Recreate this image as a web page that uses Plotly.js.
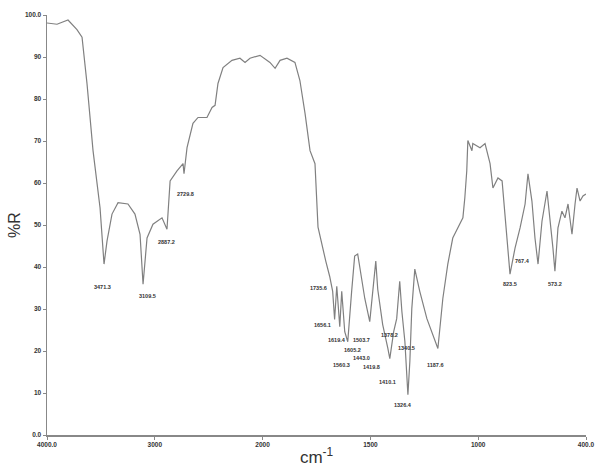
<!DOCTYPE html>
<html>
<head>
<meta charset="utf-8">
<script src="https://cdn.plot.ly/plotly-3.0.1.min.js"></script>
<style>html,body{margin:0;padding:0;background:#fff;}#chart{width:611px;height:472px;}</style>
</head>
<body>
<div id="chart"></div>
<script>
// Wavenumbers (cm-1) and %R values
const wavenumber = [4000,3907,3805,3722,3675,3629,3573,3508,3471,3443,3397,3341,3249,3184,3137,3109,3072,3017,2933,2887,2858,2794,2738,2729,2701,2646,2599,2516,2469,2441,2414,2367,2284,2210,2163,2117,2024,1966,1942,1919,1887,1850,1827,1803,1780,1757,1743,1726,1707,1689,1675,1666,1656,1642,1633,1619,1605,1587,1573,1559,1540,1526,1503,1489,1475,1466,1443,1419,1410,1392,1378,1364,1354,1340,1326,1317,1308,1294,1271,1238,1211,1187,1164,1141,1118,1085,1071,1062,1053,1048,1029,1025,990,962,934,918,890,867,851,834,823,795,767,739,723,701,684,667,645,617,600,584,573,556,534,517,500,478,461,450,433,417,400];
const reflectance = [98.1,97.8,98.8,96.5,94.7,83.7,67.7,54.1,40.7,46.2,52.6,55.3,55.0,52.6,47.8,35.9,46.9,50.2,51.7,49.0,60.5,62.9,64.6,62.2,68.4,74.2,75.6,75.6,78.0,78.5,83.7,87.5,89.2,89.7,88.7,89.7,90.4,88.7,87.3,89.2,89.7,88.7,84.4,76.5,67.7,64.6,49.5,45.4,41.4,37.8,34.2,27.5,35.4,25.8,34.2,24.6,22.2,34.2,42.6,43.1,36.6,32.5,27.0,34.2,41.4,34.7,26.3,20.6,18.2,24.6,27.7,36.6,29.4,22.2,9.6,17.5,30.1,39.5,34.2,27.7,23.9,20.6,32.5,40.7,46.9,50.2,51.7,56.5,62.9,70.1,67.7,69.4,68.4,69.4,64.6,58.8,61.2,60.5,52.6,43.1,38.3,44.5,49.3,55.0,62.2,55.7,46.9,40.7,50.9,58.1,51.7,44.5,39.0,49.3,53.3,51.7,55.0,47.8,55.0,58.8,55.7,56.9,57.4];

// Peak labels: text, label position (wavenumber, %R)
const peakText = ["3471.3","3109.5","2887.2","2729.8","1735.6","1656.1","1619.4","1503.7","1605.2","1443.0","1560.3","1419.8","1378.2","1340.5","1410.1","1326.4","1187.6","823.5","767.4","573.2"];
const peakLabelW = [3481,3072,2887,2711,1743,1720,1656,1540,1581,1540,1633,1494,1410,1331,1419,1350,1197,823,751,573];
const peakLabelR = [35.2,33.0,45.9,57.4,34.9,26.3,22.7,22.7,20.3,18.4,16.7,16.3,23.9,20.6,12.7,7.2,16.7,35.9,41.4,35.9];

// Axis tick labels
const tickWavenumbers = [4000,3000,2000,1500,1000,400];
const tickLabels = ["4000.0","3000","2000","1500","1000","400.0"];
const yTickVals = [0,10,20,30,40,50,60,70,80,90,100];
const yTickLabels = ["0.0","10","20","30","40","50","60","70","80","90","100.0"];

// Instrument-style split wavenumber scale (scale change at 2000 and 1000 cm-1)
function pos(w){
  if (w >= 2000) return (4000 - w) / 1000;
  if (w >= 1000) return 2 + (2000 - w) / 500;
  return 4 + (1000 - w) / 600;
}

const trace = {
  x: wavenumber.map(pos),
  y: reflectance,
  customdata: wavenumber,
  type: 'scatter',
  mode: 'lines',
  line: {color: '#808080', width: 1.2},
  hovertemplate: '%{customdata} cm-1: %{y}<extra></extra>'
};

const annotations = peakText.map((t, i) => ({
  x: pos(peakLabelW[i]), y: peakLabelR[i], text: '<b>' + t + '</b>',
  showarrow: false, font: {family: 'Arial, Liberation Sans, sans-serif', size: 5.5, color: '#333'},
  xanchor: 'center', yanchor: 'middle'
}));

const layout = {
  width: 611, height: 472,
  margin: {l: 47, r: 25, t: 15, b: 37},
  paper_bgcolor: '#fff', plot_bgcolor: '#fff',
  showlegend: false,
  xaxis: {
    range: [0, 5], tickmode: 'array',
    tickvals: tickWavenumbers.map(pos), ticktext: tickLabels.map(s => '<b>' + s + '</b>'),
    showgrid: false, zeroline: false, showline: true, linecolor: '#888', linewidth: 1.5,
    ticks: 'outside', ticklen: 3, tickcolor: '#888',
    tickfont: {family: 'Arial, Liberation Sans, sans-serif', size: 6.5, color: '#333'},
    title: {text: 'cm<sup>-1</sup>', font: {family: 'Arial, Liberation Sans, sans-serif', size: 17, color: '#333'}, standoff: 4}
  },
  yaxis: {
    range: [0, 100], tickmode: 'array', tickvals: yTickVals,
    ticktext: yTickLabels.map(s => '<b>' + s + '</b>'),
    showgrid: false, zeroline: false, showline: true, linecolor: '#888', linewidth: 1.5,
    ticks: 'outside', ticklen: 3, tickcolor: '#888',
    tickfont: {family: 'Arial, Liberation Sans, sans-serif', size: 6.5, color: '#333'},
    title: {text: '%R', font: {family: 'Arial, Liberation Sans, sans-serif', size: 16, color: '#333'}, standoff: 0}
  },
  annotations: annotations
};

Plotly.newPlot('chart', [trace], layout, {displayModeBar: false, staticPlot: true});
</script>
</body>
</html>
